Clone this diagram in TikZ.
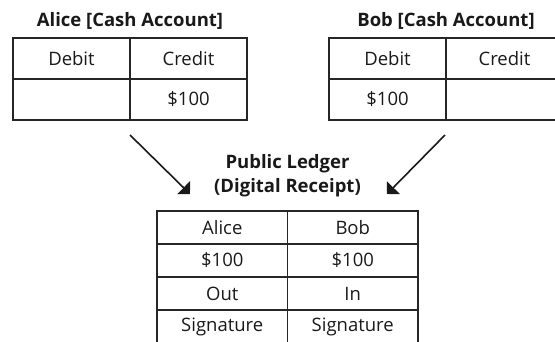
\documentclass[tikz,border=0pt]{standalone}
\usepackage{fontspec}
\setmainfont{Open Sans}
\usetikzlibrary{arrows.meta,positioning}

\begin{document}
\begin{tikzpicture}[x=1pt, y=-1pt,
  cell/.style={draw=black!85, line width=1.1pt, inner sep=0pt, outer sep=0pt,
    minimum width=117pt, minimum height=41pt, text=black!90,
    font=\fontsize{18.5}{22}\selectfont},
  lcell/.style={cell, minimum width=130.5pt, minimum height=33pt},
  heading/.style={font=\fontsize{18.5}{24}\selectfont\bfseries, text=black!90, align=center},
  flow/.style={-{Triangle[length=9pt,width=18pt]}, line width=1.6pt, black!90}]
  \clip (0,0) rectangle (555,341);
  % Alice account (left)
  \node[heading] (aliceTitle) at (130,21) {Alice [Cash Account]};
  \node[cell] (aliceDebit) at (71.5,58.5) {Debit};
  \node[cell, right=0pt of aliceDebit] (aliceCredit) {Credit};
  \node[cell, below=0pt of aliceDebit] (aliceDebitVal) {};
  \node[cell, below=0pt of aliceCredit] (aliceCreditVal) {\$100};
  % Bob account (right)
  \node[heading] (bobTitle) at (446,21) {Bob [Cash Account]};
  \node[cell] (bobDebit) at (387.5,58.5) {Debit};
  \node[cell, right=0pt of bobDebit] (bobCredit) {Credit};
  \node[cell, below=0pt of bobDebit] (bobDebitVal) {\$100};
  \node[cell, below=0pt of bobCredit] (bobCreditVal) {};
  % public ledger
  \node[heading] (ledgerTitle) at (287.5,176) {Public Ledger\\(Digital Receipt)};
  \node[lcell] (ledgerA) at (222.25,227.5) {Alice};
  \node[lcell, right=0pt of ledgerA] (ledgerB) {Bob};
  \node[lcell, below=0pt of ledgerA] (amountA) {\$100};
  \node[lcell, below=0pt of ledgerB] (amountB) {\$100};
  \node[lcell, below=0pt of amountA] (dirA) {Out};
  \node[lcell, below=0pt of amountB] (dirB) {In};
  \node[lcell, below=0pt of dirA] (signA) {Signature};
  \node[lcell, below=0pt of dirB] (signB) {Signature};
  % flows into the ledger
  \coordinate (aliceFrom) at (130,135);
  \coordinate (aliceTo) at (190,194);
  \coordinate (bobFrom) at (445,135);
  \coordinate (bobTo) at (387,194);
  \draw[flow] (aliceFrom) -- (aliceTo);
  \draw[flow] (bobFrom) -- (bobTo);
\end{tikzpicture}
\end{document}
